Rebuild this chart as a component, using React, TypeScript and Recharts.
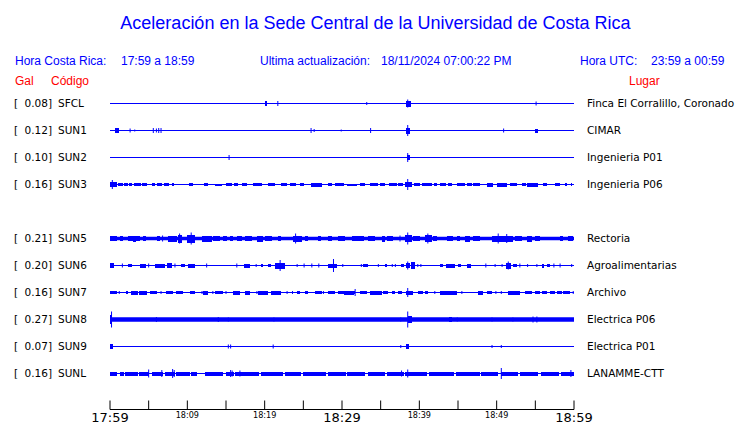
import React from "react";
import { ComposedChart, Line, XAxis, YAxis, ReferenceLine, ReferenceArea } from "recharts";

type Burst = [number, number, number]; // start minute, end minute, half amplitude
type Spike = [number, number]; // minute, half amplitude

const STATIONS = ["SFCL", "SUN1", "SUN2", "SUN3", "SUN5", "SUN6", "SUN7", "SUN8", "SUN9", "SUNL"];
const PEAK_GAL = ["0.08", "0.12", "0.10", "0.16", "0.21", "0.20", "0.16", "0.27", "0.07", "0.16"];
const PLACES = [
  "Finca El Corralillo, Coronado",
  "CIMAR",
  "Ingenieria P01",
  "Ingenieria P06",
  "Rectoria",
  "Agroalimentarias",
  "Archivo",
  "Electrica P06",
  "Electrica P01",
  "LANAMME-CTT",
];
// row slot of each station (slot 4 stays empty)
const ROW_SLOTS = [0, 1, 2, 3, 5, 6, 7, 8, 9, 10];
// background noise half-width of each trace
const NOISE = [0, 0, 0, 0, 1.7, 0, 0, 2.2, 0, 0];

const MINUTE_TICKS = [0, 5, 10, 15, 20, 25, 30, 35, 40, 45, 50, 55, 60];
const TIME_LABELS = ["17:59", "", "18:09", "", "18:19", "", "18:29", "", "18:39", "", "18:49", "", "18:59"];

const SFCL_BURSTS: Burst[] = [[20.0, 20.3, 2.5], [38.3, 38.9, 3]];
const SFCL_SPIKES: Spike[] = [[21.7, 2.5], [33.2, 1.5], [38.5, 4], [55.1, 2]];

const SUN1_BURSTS: Burst[] = [[0.6, 1.2, 2.5], [38.3, 38.8, 3], [55.0, 55.3, 2]];
const SUN1_SPIKES: Spike[] = [
  [2.6, 2], [3.2, 1], [5.6, 2.5], [6.0, 2], [6.3, 2.5], [6.6, 2.5], [26.0, 2.5], [26.4, 1.5],
  [29.9, 1], [33.7, 2.5], [38.5, 5.5], [50.9, 2],
];

const SUN2_BURSTS: Burst[] = [[38.4, 38.8, 2.5]];
const SUN2_SPIKES: Spike[] = [[15.4, 2.5], [38.5, 4.5]];

const SUN3_BURSTS: Burst[] = [
  [0, 0.9, 2.5], [1.0, 1.7, 1.5], [1.8, 2.3, 1.5], [2.5, 2.8, 1.5], [3.1, 4.0, 1.5], [4.1, 4.8, 1.5],
  [5.4, 5.8, 1.5], [6.1, 6.7, 1.5], [7.0, 7.6, 1.5], [8.0, 8.3, 1.5], [10.2, 10.7, 1.5], [12.2, 12.7, 1.5],
  [13.6, 14.5, 1], [15.0, 15.8, 1.5], [16.0, 16.6, 1.5], [17.1, 17.7, 1.5], [18.5, 19.7, 1.5],
  [20.4, 21.3, 1.5], [22.1, 22.9, 1.5], [23.3, 24.0, 1.5], [24.6, 25.1, 1.5], [26.0, 27.4, 2],
  [28.2, 28.7, 1.5], [29.1, 30.3, 1.5], [30.6, 31.9, 1], [32.3, 33.0, 1.5], [33.6, 34.7, 1.5],
  [34.9, 35.6, 1.5], [36.1, 37.1, 1.5], [37.2, 37.9, 1.5], [38.1, 39.1, 2.5], [39.3, 40.1, 1.5],
  [40.3, 41.6, 1.5], [41.9, 42.3, 1.5], [42.7, 43.4, 1.5], [43.7, 44.2, 1.5], [44.9, 45.9, 1.5],
  [46.2, 46.8, 1.5], [46.9, 47.8, 1.5], [48.7, 49.5, 2], [50.0, 51.3, 2], [51.7, 52.6, 1.5],
  [53.3, 53.8, 1.5], [53.9, 55.3, 2], [56.0, 56.5, 1.5], [57.5, 58.2, 1.5], [58.9, 59.1, 1.5],
  [59.6, 59.8, 1.5],
];
const SUN3_SPIKES: Spike[] = [[0.3, 4.5], [38.5, 5.5]];

const SUN5_BURSTS: Burst[] = [
  [0, 0.9, 2.5], [1.3, 1.7, 2.5], [2.3, 3.9, 2.5], [3.0, 3.4, 3], [4.3, 4.7, 2.5], [6.1, 6.5, 2.5],
  [7.5, 8.7, 3], [8.8, 9.3, 4], [10.0, 11.0, 4], [11.9, 13.2, 3], [13.3, 14.2, 2.5], [14.6, 15.1, 2.5],
  [15.5, 15.9, 2.5], [16.4, 17.1, 2.5], [17.5, 18.4, 2.5], [19.0, 19.8, 3], [20.0, 20.9, 2.5],
  [21.7, 22.1, 2.5], [23.7, 24.8, 3], [25.2, 25.6, 2.5], [26.9, 27.3, 2.5], [28.2, 28.7, 2.5],
  [29.5, 30.4, 2.5], [31.3, 32.8, 2.5], [33.4, 34.3, 2.5], [35.2, 35.6, 3], [35.8, 36.6, 2.5],
  [38.1, 39.1, 3.5], [39.2, 40.1, 2.5], [40.7, 41.6, 3.5], [41.8, 42.3, 2.5], [43.6, 44.4, 2.5],
  [44.9, 45.3, 2.5], [45.9, 46.6, 3], [46.9, 47.8, 2.5], [49.4, 52.1, 3], [52.4, 53.3, 2.5],
  [53.9, 54.6, 3], [55.0, 55.6, 2.5], [58.2, 58.6, 2.5], [59.2, 59.9, 2.5],
];
const SUN5_SPIKES: Spike[] = [
  [6.8, 3], [9.0, 5], [10.5, 6], [24.0, 5], [37.5, 3], [38.5, 6], [41.1, 5], [50.2, 5], [51.3, 4.5],
];

const SUN6_BURSTS: Burst[] = [
  [0, 0.5, 2.5], [2.3, 2.8, 1.5], [3.9, 4.7, 2], [5.8, 7.1, 2], [7.4, 8.0, 2.5], [9.2, 9.7, 1.5],
  [10.1, 11.0, 2], [17.3, 18.1, 2], [19.5, 19.8, 1.5], [20.4, 20.8, 1.5], [21.3, 22.6, 3],
  [28.2, 29.4, 2], [32.7, 33.4, 1.5], [35.6, 35.8, 1.5], [37.6, 38.0, 1.5], [38.3, 38.8, 2.5],
  [38.9, 39.4, 3.5], [42.7, 43.1, 1.5], [43.4, 44.6, 2], [45.0, 45.4, 1.5], [46.2, 46.7, 2],
  [51.2, 51.9, 3], [52.1, 52.6, 1.5], [55.9, 56.1, 2], [56.5, 56.9, 1.5],
];
const SUN6_SPIKES: Spike[] = [
  [1.6, 2], [5.0, 2], [8.4, 2], [12.5, 2], [16.4, 2], [18.9, 1.5], [22.0, 5.5], [24.2, 1.5], [25.1, 2],
  [26.1, 2], [27.0, 2], [28.9, 6.5], [30.1, 1.5], [32.5, 1.5], [34.7, 1.5], [36.5, 1.5], [36.9, 1.5],
  [38.5, 4], [39.8, 1.5], [40.2, 1.5], [48.6, 2], [49.8, 1.5], [50.7, 1.5], [51.5, 4], [53.0, 2],
  [54.0, 1.5], [55.2, 1.5], [57.4, 2], [58.2, 2], [59.7, 1.5],
];

const SUN7_BURSTS: Burst[] = [
  [0, 0.9, 1.5], [2.1, 2.3, 1.5], [2.7, 3.6, 2], [3.8, 4.8, 2], [5.2, 6.1, 1.5], [7.2, 8.1, 1.5],
  [8.5, 9.4, 1.5], [10.3, 11.0, 1.5], [12.0, 12.7, 2], [13.6, 14.6, 1.5], [15.9, 16.8, 2],
  [17.5, 18.1, 2], [19.1, 20.4, 2], [20.8, 22.1, 2], [24.2, 24.6, 1.5], [25.2, 25.6, 1.5],
  [26.5, 27.4, 1.5], [28.2, 29.1, 1.5], [29.5, 31.7, 1.5], [30.2, 31.5, 2], [32.3, 33.2, 1.5],
  [33.6, 35.2, 2], [35.3, 35.9, 1.5], [36.5, 36.9, 1.5], [37.2, 37.8, 1.5], [38.3, 39.2, 2],
  [39.8, 40.5, 1.5], [40.7, 41.1, 1.5], [42.7, 44.9, 2], [47.6, 48.2, 2], [48.7, 49.4, 1.5],
  [51.5, 53.0, 2], [53.7, 54.6, 1.5], [55.0, 55.6, 1.5], [55.9, 56.5, 1.5], [56.9, 57.5, 1.5],
  [57.8, 58.5, 1.5], [58.6, 59.5, 1.5],
];
const SUN7_SPIKES: Spike[] = [
  [1.2, 1.5], [6.6, 1.5], [11.9, 1.5], [13.3, 1.5], [15.0, 1.5], [19.0, 1.5], [22.9, 1.5], [23.6, 1.5],
  [27.6, 1.5], [31.7, 3.5], [38.5, 4.5], [42.0, 1.5], [45.5, 1.5], [49.9, 1.5], [50.6, 1.5], [59.9, 1.5],
];

const SUN8_BURSTS: Burst[] = [[0, 0.3, 4.5], [38.5, 39.0, 3.5], [43.9, 44.2, 2.5]];
const SUN8_SPIKES: Spike[] = [
  [0.2, 8], [6.0, 2.5], [14.0, 2.5], [15.3, 2], [21.2, 2], [37.6, 2], [38.5, 8], [44.9, 2], [49.4, 2],
  [52.1, 2], [54.7, 3], [55.2, 3],
];

const SUN9_BURSTS: Burst[] = [[0, 0.4, 2.5], [38.3, 38.7, 2.5]];
const SUN9_SPIKES: Spike[] = [[15.3, 2], [15.6, 2], [21.1, 2], [37.6, 1.5], [49.4, 1.5], [50.6, 1.5]];

const SUNL_BURSTS: Burst[] = [
  [0, 0.9, 2], [1.3, 1.8, 2], [1.9, 3.6, 2], [3.7, 5.0, 2], [5.4, 6.9, 2], [7.1, 8.4, 2], [8.5, 10.3, 2],
  [10.5, 11.2, 2], [12.3, 14.6, 2], [15.0, 16.0, 2], [16.2, 19.3, 2], [19.5, 22.4, 2], [22.6, 24.7, 2],
  [25.0, 27.9, 2], [28.2, 30.5, 2], [30.7, 33.0, 2], [33.3, 35.6, 2], [35.8, 38.0, 2], [38.2, 41.0, 2],
  [41.3, 44.5, 2], [44.7, 47.8, 2], [48.0, 50.2, 2], [50.5, 52.8, 2], [53.0, 55.4, 2], [55.7, 58.0, 2],
  [58.3, 60, 2],
];
const SUNL_SPIKES: Spike[] = [
  [5.0, 4], [6.7, 3.5], [8.1, 4.5], [8.3, 3.5], [15.6, 3.5], [15.8, 3], [16.8, 3], [37.7, 3], [38.5, 4],
  [50.6, 5.5], [59.6, 3.5],
];

const BURSTS = [
  SFCL_BURSTS, SUN1_BURSTS, SUN2_BURSTS, SUN3_BURSTS, SUN5_BURSTS,
  SUN6_BURSTS, SUN7_BURSTS, SUN8_BURSTS, SUN9_BURSTS, SUNL_BURSTS,
];
const SPIKES = [
  SFCL_SPIKES, SUN1_SPIKES, SUN2_SPIKES, SUN3_SPIKES, SUN5_SPIKES,
  SUN6_SPIKES, SUN7_SPIKES, SUN8_SPIKES, SUN9_SPIKES, SUNL_SPIKES,
];

const W = 740;
const H = 423;
const TOP = 90;
const AXIS_H = 13.5;
const ROW_GAP = 27;
const Y_MAX = H - TOP - AXIS_H;
const ROW_VALUES = ROW_SLOTS.map((s) => 13.5 + s * ROW_GAP);
const BLUE = "#0000ff";
const RED = "#ff0000";
const LABEL_FONT = "'DejaVu Sans', sans-serif";
const HEAD_FONT = "'Liberation Sans', Arial, sans-serif";

function TimeTick(props: any) {
  const { x, y, index } = props;
  const label = TIME_LABELS[index];
  const big = index % 6 === 0;
  return (
    <g>
      <line x1={x} x2={x} y1={y - 9} y2={y} stroke="#000" strokeWidth={1} />
      {label ? (
        big ? (
          <text x={x} y={y + 12} textAnchor="middle" fontSize={13} fontFamily={LABEL_FONT} fill="#000">
            {label}
          </text>
        ) : (
          <text x={x} y={y + 8.5} textAnchor="middle" fontSize={9}
            fontFamily="'DejaVu Sans Condensed', 'DejaVu Sans', sans-serif" fill="#000">
            {label}
          </text>
        )
      ) : null}
    </g>
  );
}

function StationTick(props: any) {
  const { y, index } = props;
  return (
    <g fontFamily={LABEL_FONT} fontSize={10.5} fill="#000">
      <text x={14} y={y} dy="0.36em">[</text>
      <text x={52} y={y} dy="0.36em" textAnchor="end">{PEAK_GAL[index]}]</text>
      <text x={58} y={y} dy="0.36em">{STATIONS[index]}</text>
    </g>
  );
}

function PlaceTick(props: any) {
  const { y, index } = props;
  return (
    <text x={587} y={y} dy="0.36em" fontFamily={LABEL_FONT} fontSize={10.5} fill="#000">
      {PLACES[index]}
    </text>
  );
}

const crispRect = (p: any) => (
  <rect x={p.x} y={p.y} width={Math.max(p.width, 1)} height={p.height} fill={BLUE} shapeRendering="crispEdges" />
);

export default function App() {
  // one row per minute tick, holding the resting level of every trace
  const data = MINUTE_TICKS.map((m) => {
    const row: Record<string, number> = { m };
    STATIONS.forEach((s, i) => (row[s] = ROW_VALUES[i]));
    return row;
  });

  const marks: React.ReactNode[] = [];
  STATIONS.forEach((name, i) => {
    const base = ROW_VALUES[i];
    BURSTS[i].forEach(([s, e, a], j) => {
      marks.push(
        <ReferenceArea key={`a-${name}-${j}`} yAxisId="l" x1={s} x2={e} y1={base - a} y2={base + a}
          fill={BLUE} fillOpacity={1} stroke="none" shape={crispRect} ifOverflow="visible" />
      );
    });
    SPIKES[i].forEach(([t, a], j) => {
      marks.push(
        <ReferenceLine key={`s-${name}-${j}`} yAxisId="l" stroke={BLUE} strokeWidth={1} ifOverflow="visible"
          segment={[{ x: t, y: base - a }, { x: t, y: base + a }]} />
      );
    });
  });

  return (
    <div style={{ position: "absolute", left: 0, top: 0, width: W, height: H, background: "#fff" }}>
      <ComposedChart width={W} height={H} data={data} margin={{ top: TOP, right: 0, bottom: 0, left: 0 }}>
        <XAxis dataKey="m" type="number" domain={[0, 60]} ticks={MINUTE_TICKS} interval={0} allowDataOverflow
          height={AXIS_H} axisLine={{ stroke: "#000" }} tickLine={false} tickSize={0} tickMargin={0}
          tick={(p: any) => <TimeTick {...p} />} />
        <YAxis yAxisId="l" type="number" domain={[0, Y_MAX]} reversed ticks={ROW_VALUES} allowDataOverflow
          interval={0} width={110} axisLine={false} tickLine={false} tick={(p: any) => <StationTick {...p} />} />
        <YAxis yAxisId="r" orientation="right" type="number" domain={[0, Y_MAX]} reversed allowDataOverflow
          ticks={ROW_VALUES} interval={0} width={166} axisLine={false} tickLine={false}
          tick={(p: any) => <PlaceTick {...p} />} />
        {STATIONS.map((s, i) => (
          <Line key={s} yAxisId="l" dataKey={s} stroke={BLUE} strokeWidth={Math.max(1.2, NOISE[i] * 2)}
            dot={false} activeDot={false} isAnimationActive={false} />
        ))}
        {STATIONS.map((s) => (
          <Line key={`r-${s}`} yAxisId="r" dataKey={s} stroke="none" dot={false} activeDot={false}
            isAnimationActive={false} />
        ))}
        {marks}
      </ComposedChart>
      <svg width={W} height={TOP} style={{ position: "absolute", left: 0, top: 0, pointerEvents: "none" }}>
        <text x={375.5} y={29} textAnchor="middle" fontSize={18} fontFamily={HEAD_FONT} fill={BLUE}>
          Aceleración en la Sede Central de la Universidad de Costa Rica
        </text>
        <g fontSize={12} fontFamily={HEAD_FONT} fill={BLUE}>
          <text x={15} y={65}>Hora Costa Rica:</text>
          <text x={121} y={65}>17:59 a 18:59</text>
          <text x={260} y={65}>Ultima actualización:</text>
          <text x={381} y={65}>18/11/2024 07:00:22 PM</text>
          <text x={580} y={65}>Hora UTC:</text>
          <text x={651} y={65}>23:59 a 00:59</text>
        </g>
        <g fontSize={12} fontFamily={HEAD_FONT} fill={RED}>
          <text x={15} y={85}>Gal</text>
          <text x={51} y={85}>Código</text>
          <text x={629} y={85}>Lugar</text>
        </g>
      </svg>
    </div>
  );
}
